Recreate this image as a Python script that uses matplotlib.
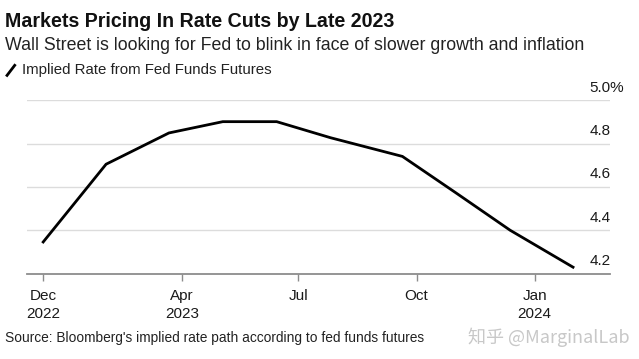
import datetime as dt
import matplotlib
matplotlib.use("Agg")
import matplotlib.pyplot as plt
import matplotlib.transforms as mtransforms

# 数据：联邦基金期货隐含利率（按FOMC会议日期）
dates = [dt.date(2022, 12, 14), dt.date(2023, 2, 1), dt.date(2023, 3, 22),
         dt.date(2023, 5, 3), dt.date(2023, 6, 14), dt.date(2023, 7, 26),
         dt.date(2023, 9, 20), dt.date(2023, 11, 1), dt.date(2023, 12, 13),
         dt.date(2024, 1, 31)]
rates = [4.347, 4.705, 4.849, 4.901, 4.901, 4.827, 4.741, 4.572, 4.401, 4.231]

xtick_dates = [dt.date(2022, 12, 14), dt.date(2023, 4, 1), dt.date(2023, 7, 1),
               dt.date(2023, 10, 1), dt.date(2024, 1, 1)]
xtick_labels = ['Dec\n2022', 'Apr\n2023', 'Jul', 'Oct', 'Jan\n2024']
ytick_vals = [4.2, 4.4, 4.6, 4.8, 5.0]
ytick_labels = ['4.2', '4.4', '4.6', '4.8', '5.0%']

plt.rcParams['font.family'] = ['Liberation Sans', 'DejaVu Sans']

fig = plt.figure(figsize=(6.39, 3.59), dpi=100)
ax = fig.add_axes([0.0415, 0.237, 0.9135, 0.484])

ax.plot(dates, rates, color='black', linewidth=2.0, solid_joinstyle='miter')

ax.set_ylim(4.2, 5.0)
ax.set_xlim(dt.date(2022, 12, 1), dt.date(2024, 2, 29))

# 网格线
for v in ytick_vals[1:]:
    ax.axhline(v, color='#dcdcdc', linewidth=1.0, zorder=0)

for s in ['top', 'right', 'left']:
    ax.spines[s].set_visible(False)
ax.spines['bottom'].set_color('#8c8c8c')
ax.spines['bottom'].set_linewidth(1.3)

ax.set_yticks([])
ax.set_xticks(xtick_dates)
ax.set_xticklabels(xtick_labels, fontsize=11, color='#1a1a1a', linespacing=1.35)
ax.tick_params(axis='x', length=5, width=1.0, color='#8c8c8c', pad=6)

# 右侧刻度标签（位于网格线上方）
trans = mtransforms.blended_transform_factory(ax.transAxes, ax.transData)
off = mtransforms.ScaledTranslation(0, 4 / 72, fig.dpi_scale_trans)
for v, lab in zip(ytick_vals, ytick_labels):
    ax.text(0.965, v, lab, transform=trans + off, ha='left', va='bottom',
            fontsize=11, color='#1a1a1a', clip_on=False)

# 标题与说明
fig.text(0.008, 0.94, 'Markets Pricing In Rate Cuts by Late 2023', fontsize=14.1,
         fontweight='bold', color='#111111', va='center')
fig.text(0.008, 0.872, 'Wall Street is looking for Fed to blink in face of slower growth and inflation',
         fontsize=12.75, color='#222222', va='center')
fig.add_artist(plt.Line2D([0.011, 0.023], [0.79, 0.818], color='black', linewidth=2.0,
                          transform=fig.transFigure))
fig.text(0.034, 0.804, 'Implied Rate from Fed Funds Futures', fontsize=10.85,
         color='#222222', va='center')

fig.text(0.008, 0.058, "Source: Bloomberg's implied rate path according to fed funds futures",
         fontsize=9.9, color='#222222', va='center')
fig.text(0.985, 0.06, '知乎 @MarginalLab', fontsize=13, color='#c8c8c8', ha='right',
         va='center', family=['Noto Sans CJK SC', 'DejaVu Sans'])

fig.savefig('out.png', dpi=100)
